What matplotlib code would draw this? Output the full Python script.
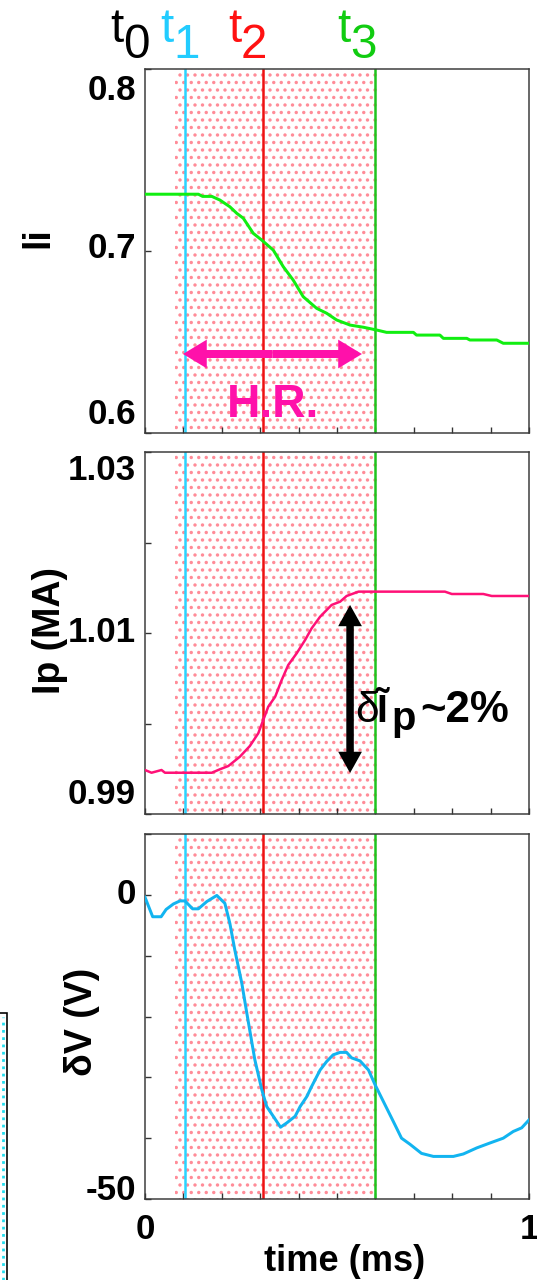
import numpy as np
import matplotlib
matplotlib.use('Agg')
import matplotlib.pyplot as plt
import matplotlib.transforms as mtransforms
import matplotlib.lines as mlines
from matplotlib.patches import Rectangle

plt.rcParams['font.family'] = ['Liberation Sans', 'DejaVu Sans']
plt.rcParams['hatch.linewidth'] = 1.5

# event times (ms) and the heating window
t_marks = [0.104, 0.306, 0.6]
mark_names = ['1', '2', '3']
mark_colors = ['#2ad4ff', '#ee1111', '#1ec41e']
hr_span = (0.077, 0.605)

# internal inductance
t_li = [0.0, 0.05, 0.10, 0.139, 0.15, 0.174, 0.195, 0.221, 0.239, 0.256, 0.282,
        0.304, 0.334, 0.36, 0.386, 0.412, 0.447, 0.473, 0.499, 0.534, 0.569,
        0.603, 0.629, 0.699, 0.707, 0.768, 0.777, 0.838, 0.846, 0.916, 0.933, 1.0]
li = [0.7312, 0.7312, 0.7312, 0.7312, 0.7300, 0.7300, 0.7280, 0.7243, 0.7207,
      0.7180, 0.7097, 0.7060, 0.7005, 0.6914, 0.6840, 0.6749, 0.6685, 0.6658,
      0.6621, 0.6593, 0.6581, 0.6566, 0.6553, 0.6553, 0.6538, 0.6538, 0.6520,
      0.6520, 0.6511, 0.6511, 0.6493, 0.6493]

# plasma current (MA)
t_ip = [0.0, 0.017, 0.043, 0.052, 0.174, 0.195, 0.217, 0.247, 0.273, 0.295,
        0.308, 0.321, 0.339, 0.356, 0.373, 0.395, 0.417, 0.434, 0.456, 0.486,
        0.508, 0.525, 0.556, 0.781, 0.799, 0.881, 0.903, 1.0]
ip = [0.99486, 0.99456, 0.99486, 0.99456, 0.99456, 0.99494, 0.99530, 0.99633,
      0.99751, 0.99892, 1.00039, 1.00186, 1.00296, 1.00481, 1.00646, 1.00776,
      1.00923, 1.01052, 1.01180, 1.01310, 1.01346, 1.01409, 1.01457, 1.01457,
      1.01431, 1.01431, 1.01409, 1.01409]

# loop voltage change (V)
t_dv = [0.0, 0.02, 0.042, 0.055, 0.074, 0.091, 0.104, 0.124, 0.139, 0.161,
        0.187, 0.208, 0.221, 0.234, 0.252, 0.265, 0.286, 0.304, 0.317, 0.334,
        0.353, 0.369, 0.391, 0.404, 0.421, 0.434, 0.456, 0.473, 0.49, 0.508,
        0.525, 0.538, 0.56, 0.582, 0.599, 0.621, 0.647, 0.668, 0.69, 0.72,
        0.751, 0.803, 0.829, 0.864, 0.898, 0.933, 0.959, 0.981, 1.0]
dv = [-0.4, -3.6, -3.6, -2.4, -1.5, -1.0, -1.0, -2.3, -2.3, -1.1, -0.1, -1.4,
      -4.7, -9.1, -14.5, -19.4, -27.1, -32.0, -34.8, -36.4, -38.2, -37.5, -36.4,
      -34.8, -33.2, -31.5, -28.8, -27.4, -26.3, -25.9, -25.9, -26.8, -27.3,
      -28.8, -31.2, -34.0, -37.3, -40.0, -41.0, -42.5, -43.0, -43.0, -42.6,
      -41.6, -40.8, -40.0, -38.9, -38.3, -37.0]

li_ticks = [0.6, 0.7, 0.8]
li_labels = ['0.6', '0.7', '0.8']
ip_ticks = [0.99, 1.00, 1.01, 1.02, 1.03]
ip_labels = ['0.99', '', '1.01', '', '1.03']
dv_ticks = [-50, -40, -30, -20, -10, 0, 10]
dv_labels = ['-50', '', '', '', '', '0', '']
x_ticks = [0.0, 0.1, 0.2, 0.3, 0.4, 0.5, 0.6, 0.7, 0.8, 0.9, 1.0]
x_labels = ['0', '', '', '', '', '', '', '', '', '', '1']

hr_y = 0.6434          # height of the heating-window arrow
ip_arrow = (0.534, 0.99453, 1.0131)

DPI = 90
W, H = 537, 1280
fig = plt.figure(figsize=(W / DPI, H / DPI), dpi=DPI)


def px_box(top, bottom, left=145, right=529):
    return [left / W, 1 - bottom / H, (right - left) / W, (bottom - top) / H]


def setup(ax, ylim, ticks, labels, nudges):
    ax.set_xlim(0, 1)
    ax.set_ylim(*ylim)
    ax.axvspan(*hr_span, facecolor='none', edgecolor='#ff8c98', hatch='..',
               lw=0, zorder=1)
    for t, c in zip(t_marks, mark_colors):
        ax.axvline(t, color=c, lw=2.0, zorder=2)
    ax.set_xticks(x_ticks)
    ax.set_xticklabels([])
    ax.set_yticks(ticks)
    ax.set_yticklabels([])
    ax.tick_params(direction='in', length=4.5, width=1.1, color='#333333',
                   top=False, right=False)
    for s in ax.spines.values():
        s.set_color('#3a3a3a')
        s.set_linewidth(1.2)
    trans = ax.get_yaxis_transform()
    for val, txt, dy in zip(ticks, labels, nudges):
        if not txt:
            continue
        off = mtransforms.ScaledTranslation(-9 / DPI, dy / DPI, fig.dpi_scale_trans)
        ax.text(0, val, txt, transform=trans + off, ha='right', va='center',
                fontsize=28, fontweight='bold')


ax_li = fig.add_axes(px_box(69, 433))
ax_ip = fig.add_axes(px_box(452, 814))
ax_dv = fig.add_axes(px_box(834, 1199))

setup(ax_li, (0.6, 0.8), li_ticks, li_labels, [18, 2, -21])
setup(ax_ip, (0.99, 1.03), ip_ticks, ip_labels, [19, 0, 1, 0, -19])
setup(ax_dv, (-50, 10), dv_ticks, dv_labels, [9, 0, 0, 0, 0, 0, 0])

ax_li.plot(t_li, li, color='#11ee11', lw=2.4, zorder=3)
ax_ip.plot(t_ip, ip, color='#ff1177', lw=2.0, zorder=3)
ax_dv.plot(t_dv, dv, color='#12b4f0', lw=2.4, zorder=3)

# axis labels
ax_li.set_ylabel('li', fontsize=30, fontweight='bold')
ax_li.yaxis.set_label_coords(-0.232, 0.538)
ax_ip.set_ylabel('Ip (MA)', fontsize=30, fontweight='bold')
ax_ip.yaxis.set_label_coords(-0.200, 0.506)
ax_dv.set_ylabel('δV (V)', fontsize=30, fontweight='bold')
ax_dv.yaxis.set_label_coords(-0.117, 0.485)
for ax in (ax_li, ax_ip, ax_dv):
    ax.yaxis.label.set_va('bottom')

ax_dv.set_xticklabels(x_labels, fontsize=28, fontweight='bold')
ax_dv.tick_params(axis='x', pad=11)
ax_dv.set_xlabel('time (ms)', fontsize=29, fontweight='bold')
ax_dv.xaxis.set_label_coords(0.52, -0.122)


def arrow(ax, start, end, color, hl, hw, tw):
    style = f'simple,head_length={hl},head_width={hw},tail_width={tw}'
    ax.annotate('', xy=end, xytext=start,
                arrowprops=dict(arrowstyle=style, mutation_scale=20, fc=color,
                                ec='none', shrinkA=0, shrinkB=0), zorder=4)


# heating-window double arrow
hr_mid = 0.5 * (0.099 + 0.565)
arrow(ax_li, (hr_mid, hr_y), (0.099, hr_y), '#ff11aa', 0.95, 1.15, 0.32)
arrow(ax_li, (hr_mid, hr_y), (0.565, hr_y), '#ff11aa', 0.95, 1.15, 0.32)
ax_li.text(0.333, 0.6088, 'H.R.', color='#ff11aa', fontsize=37,
           fontweight='bold', ha='center', va='baseline', zorder=5)

# current rise double arrow
x_a, y_lo, y_hi = ip_arrow
y_mid = 0.5 * (y_lo + y_hi)
arrow(ax_ip, (x_a, y_mid), (x_a, y_lo), 'black', 0.85, 0.95, 0.3)
arrow(ax_ip, (x_a, y_mid), (x_a, y_hi), 'black', 0.85, 0.95, 0.3)
ax_ip.text(0.547, 1.0002, 'δ', fontsize=34, ha='left', va='baseline', zorder=5)
ax_ip.text(0.604, 1.0002, 'Ĩ', fontsize=31, fontweight='bold', ha='left',
           va='baseline', zorder=5)
ax_ip.text(0.641, 0.9993, 'p', fontsize=32, fontweight='bold', ha='left',
           va='baseline', zorder=5)
ax_ip.text(0.718, 1.0002, '~2%', fontsize=35, fontweight='bold', ha='left',
           va='baseline', zorder=5)


# t0 .. t3 labels above the top panel
def t_label(x, digit, color):
    fig.text(x / W, 1 - 42 / H, 't', fontsize=38, color=color, ha='left',
             va='baseline')
    fig.text((x + 13) / W, 1 - 58 / H, digit, fontsize=38, color=color,
             ha='left', va='baseline')


t_label(110, '0', 'black')
for x, d, c in zip([160, 228, 337], mark_names, ['#22ccff', '#ff1111', '#11cc11']):
    t_label(x, d, c)

# edge of the neighbouring frame at the lower left
fig.add_artist(Rectangle((-6 / W, -6 / H), 13 / W, (H - 1013 + 6) / H,
                         transform=fig.transFigure, fill=False, ec='black',
                         lw=1.3))
fig.add_artist(mlines.Line2D([3 / W, 3 / W], [0, 1 - 1017 / H],
                             transform=fig.transFigure, color='#22ddee',
                             ls=':', lw=2.2))

fig.savefig('out.png', dpi=DPI)
